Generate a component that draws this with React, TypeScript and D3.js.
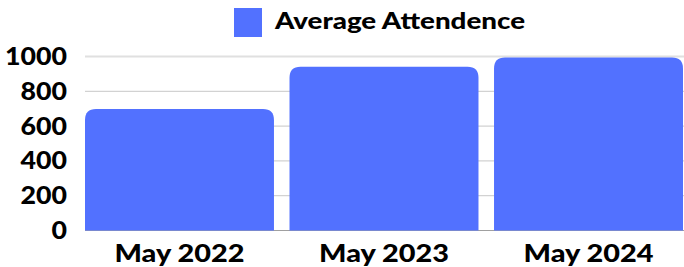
import { useRef, useEffect } from 'react';
import * as d3 from 'd3';

const categories = ['May 2022', 'May 2023', 'May 2024'];
const attendance = [698, 941, 994];
const yTicks = [0, 200, 400, 600, 800, 1000];
const seriesName = 'Average Attendence';

const W = 684;
const H = 267;
const FONT = 'Lato, "DejaVu Sans", sans-serif';
const BAR = '#5271FF';

function topRounded(x: number, y: number, w: number, h: number, r: number) {
  const rr = Math.min(r, w / 2, h);
  return `M${x},${y + h}V${y + rr}Q${x},${y} ${x + rr},${y}H${x + w - rr}Q${x + w},${y} ${x + w},${y + rr}V${y + h}Z`;
}

export default function App() {
  const svgRef = useRef<SVGSVGElement>(null);

  useEffect(() => {
    const svg = d3.select(svgRef.current);
    svg.selectAll('*').remove();

    const margin = { top: 56.5, right: 1, bottom: 36.5, left: 85 };
    const x = d3.scaleBand().domain(categories).range([margin.left, W - margin.right]).paddingInner(0.076).paddingOuter(0);
    const y = d3.scaleLinear().domain([0, 1000]).range([H - margin.bottom, margin.top]);

    // grid
    svg.append('g').selectAll('line').data(yTicks.filter(t => t > 0)).enter().append('line')
      .attr('x1', margin.left).attr('x2', W)
      .attr('y1', d => y(d)).attr('y2', d => y(d))
      .attr('stroke', d => d === 1000 ? '#e0e0e0' : '#d2d2d2')
      .attr('stroke-width', d => d === 1000 ? 2 : 1.2);

    // baseline
    svg.append('line').attr('x1', margin.left).attr('x2', W)
      .attr('y1', y(0)).attr('y2', y(0)).attr('stroke', '#a0a0a0').attr('stroke-width', 1.2);

    // bars
    svg.append('g').selectAll('path').data(categories).enter().append('path')
      .attr('d', (d, i) => topRounded(x(d)!, y(attendance[i]), x.bandwidth(), y(0) - y(attendance[i]), 11))
      .attr('fill', BAR);

    // y tick labels
    svg.append('g').selectAll('text').data(yTicks).enter().append('text')
      .attr('x', 67).attr('y', d => y(d) + 8.5)
      .attr('text-anchor', 'end')
      .attr('textLength', d => String(d).length * 15.5).attr('lengthAdjust', 'spacingAndGlyphs')
      .style('font-family', FONT).style('font-weight', 900).style('font-size', '24px')
      .attr('fill', '#000').text(d => d);

    // x labels
    svg.append('g').selectAll('text').data(categories).enter().append('text')
      .attr('x', d => x(d)! + x.bandwidth() / 2).attr('y', 262)
      .attr('text-anchor', 'middle')
      .attr('textLength', 130).attr('lengthAdjust', 'spacingAndGlyphs')
      .style('font-family', FONT).style('font-weight', 900).style('font-size', '24px')
      .attr('fill', '#000').text(d => d);

    // legend
    svg.append('rect').attr('x', 234).attr('y', 8).attr('width', 28).attr('height', 29).attr('fill', BAR);
    svg.append('text').attr('x', 275).attr('y', 29)
      .attr('textLength', 250).attr('lengthAdjust', 'spacingAndGlyphs')
      .style('font-family', FONT).style('font-weight', 900).style('font-size', '23px')
      .attr('fill', '#000').text(seriesName);
  }, []);

  return (
    <svg ref={svgRef} width={W} height={H}
      style={{ position: 'absolute', left: 0, top: 0, background: '#fff' }} />
  );
}
